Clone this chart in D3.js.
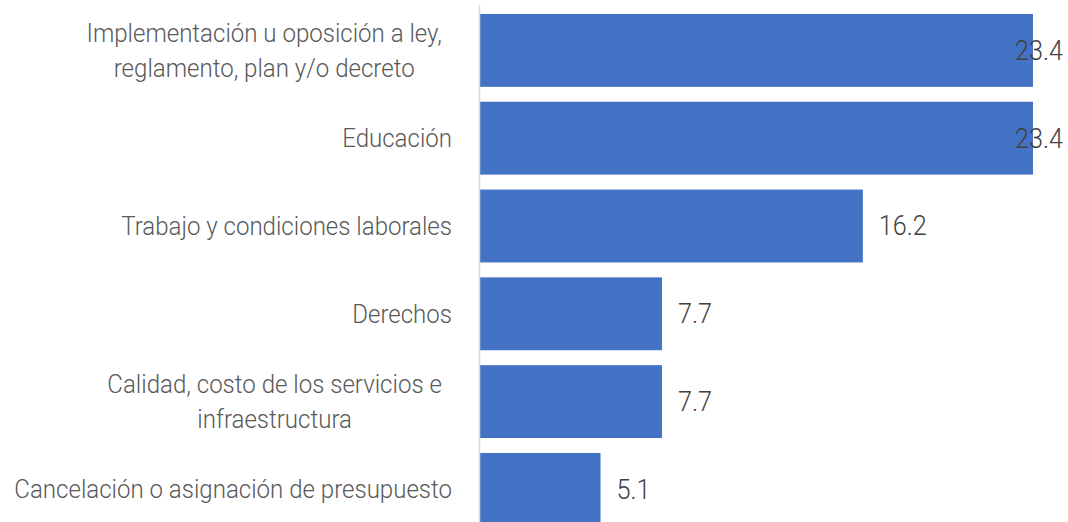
<!DOCTYPE html>
<html>
<head>
    <meta charset="utf-8">
    <title>Temas</title>
    <style>
        body { margin: 0; background: #fff; }
        text { font-family: Roboto, "Open Sans", sans-serif; font-weight: 300; }
    </style>
</head>
<body>
<script src="https://cdnjs.cloudflare.com/ajax/libs/d3/7.8.5/d3.min.js"></script>
<script>
    const categories = [
        ['Implementación u oposición a ley,', 'reglamento, plan y/o decreto'],
        ['Educación'],
        ['Trabajo y condiciones laborales'],
        ['Derechos'],
        ['Calidad, costo de los servicios e', 'infraestructura'],
        ['Cancelación o asignación de presupuesto']
    ];
    const values = [23.4, 23.4, 16.2, 7.7, 7.7, 5.1];

    const W = 1068, H = 522;
    const AXIS_X = 480;
    const LABEL_RIGHT = 452;

    const keys = categories.map((c, i) => i);

    const svg = d3.select('body').append('svg')
        .attr('width', W)
        .attr('height', H);

    const x = d3.scaleLinear().domain([0, 23.4]).range([AXIS_X, 1033]);
    const y = d3.scaleBand().domain(keys).range([6.5, 533.3])
        .paddingInner(0.17).paddingOuter(0.085);

    // bars
    svg.selectAll('rect.bar')
        .data(values)
        .enter().append('rect')
        .attr('class', 'bar')
        .attr('x', x(0))
        .attr('y', (d, i) => y(i))
        .attr('width', d => x(d) - x(0))
        .attr('height', y.bandwidth())
        .attr('fill', '#4472c4');

    // vertical axis line
    svg.append('line')
        .attr('x1', AXIS_X - 0.5).attr('x2', AXIS_X - 0.5)
        .attr('y1', 5).attr('y2', H)
        .attr('stroke', '#d9d9d9')
        .attr('stroke-width', 1.5);

    // measure natural widths so the text can be squeezed like a condensed face
    const probe = svg.append('text').attr('font-size', 26)
        .text('Cancelación o asignación de presupuesto');
    const labelSx = 438 / probe.node().getComputedTextLength();
    probe.attr('font-size', 27).text('16.2');
    const valueSx = 48 / probe.node().getComputedTextLength();
    probe.remove();

    // category labels
    const lineH = 35;
    categories.forEach((lines, i) => {
        const cy = y(i) + y.bandwidth() / 2;
        const g = svg.append('g');
        const texts = lines.map((t, j) => g.append('text')
            .attr('font-size', 26)
            .attr('fill', '#595959')
            .attr('dy', '0.35em')
            .attr('y', cy + (j - (lines.length - 1) / 2) * lineH)
            .text(t));
        if (lines.length === 1) {
            texts[0].attr('text-anchor', 'end')
                .attr('transform', `translate(${LABEL_RIGHT},0) scale(${labelSx},1)`);
        } else {
            const maxW = d3.max(texts, t => t.node().getComputedTextLength()) * labelSx;
            const cx = LABEL_RIGHT - maxW / 2 - 10;
            texts.forEach(t => t.attr('text-anchor', 'middle')
                .attr('transform', `translate(${cx},0) scale(${labelSx},1)`));
        }
    });

    // value labels
    values.forEach((v, i) => {
        const cy = y(i) + y.bandwidth() / 2;
        const t = svg.append('text')
            .attr('font-size', 27)
            .attr('fill', '#404040')
            .attr('dy', '0.35em')
            .attr('y', cy)
            .text(v.toFixed(1));
        const w = t.node().getComputedTextLength() * valueSx;
        const lx = Math.min(x(v) + 16, W - 5 - w);
        t.attr('transform', `translate(${lx},0) scale(${valueSx},1)`);
    });
</script>
</body>
</html>
